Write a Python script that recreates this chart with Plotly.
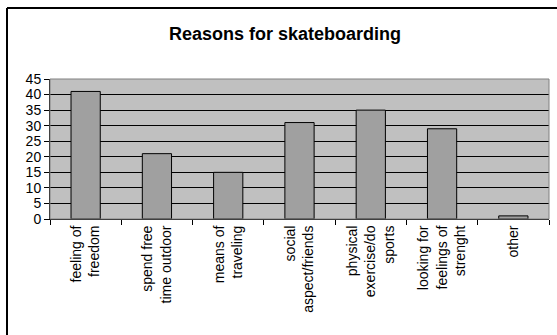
import plotly.graph_objects as go

categories = ["feeling of<br>freedom", "spend free<br>time outdoor", "means of<br>traveling",
              "social<br>aspect/friends", "physical<br>exercise/do<br>sports",
              "looking for<br>feelings of<br>strenght", "other"]
values = [41, 21, 15, 31, 35, 29, 1]
y_ticks = list(range(0, 50, 5))

W, H = 557, 335
L, R, T, B = 50, 8, 79, 116
pw, ph = W - L - R, H - T - B

fig = go.Figure(go.Bar(
    x=categories, y=values,
    marker=dict(color="#a0a0a0", line=dict(color="black", width=1)),
    width=0.41,
))

fig.update_layout(
    width=W, height=H,
    margin=dict(l=L, r=R, t=T, b=B, autoexpand=False),
    paper_bgcolor="white", plot_bgcolor="#c0c0c0",
    font=dict(family="Liberation Sans, Arial", color="black", size=14),
    title=dict(text="<b>Reasons for skateboarding</b>", x=285 / W, xanchor="center",
               y=1 - 34 / H, yanchor="middle", font=dict(size=18)),
    showlegend=False,
    bargap=0.59,
)
fig.update_xaxes(
    showline=True, linecolor="black", linewidth=1,
    ticks="outside", tickson="boundaries", ticklen=5, tickcolor="black",
    tickangle=-90, showgrid=False, mirror=False,
)
fig.update_yaxes(
    range=[0, 45], tickvals=y_ticks, showline=True, linecolor="black", linewidth=1,
    ticks="outside", ticklen=5, tickcolor="black",
    showgrid=True, gridcolor="black", gridwidth=1, zeroline=False,
)
# plot-area border (grey edge)
fig.add_shape(type="rect", xref="paper", yref="paper", x0=0, y0=0, x1=1, y1=1,
              line=dict(color="#808080", width=1), layer="above")
# outer chart frame: left and top edges only (others run off the picture)
fx0 = (7 - L) / pw
fy1 = (T + ph - 8) / ph
fig.add_shape(type="line", xref="paper", yref="paper",
              x0=fx0, x1=fx0, y0=(T + ph - H) / ph, y1=fy1,
              line=dict(color="black", width=2), layer="above")
fig.add_shape(type="line", xref="paper", yref="paper",
              x0=fx0, x1=(W - L) / pw, y0=fy1, y1=fy1,
              line=dict(color="black", width=2), layer="above")

fig.write_html("out.html")
